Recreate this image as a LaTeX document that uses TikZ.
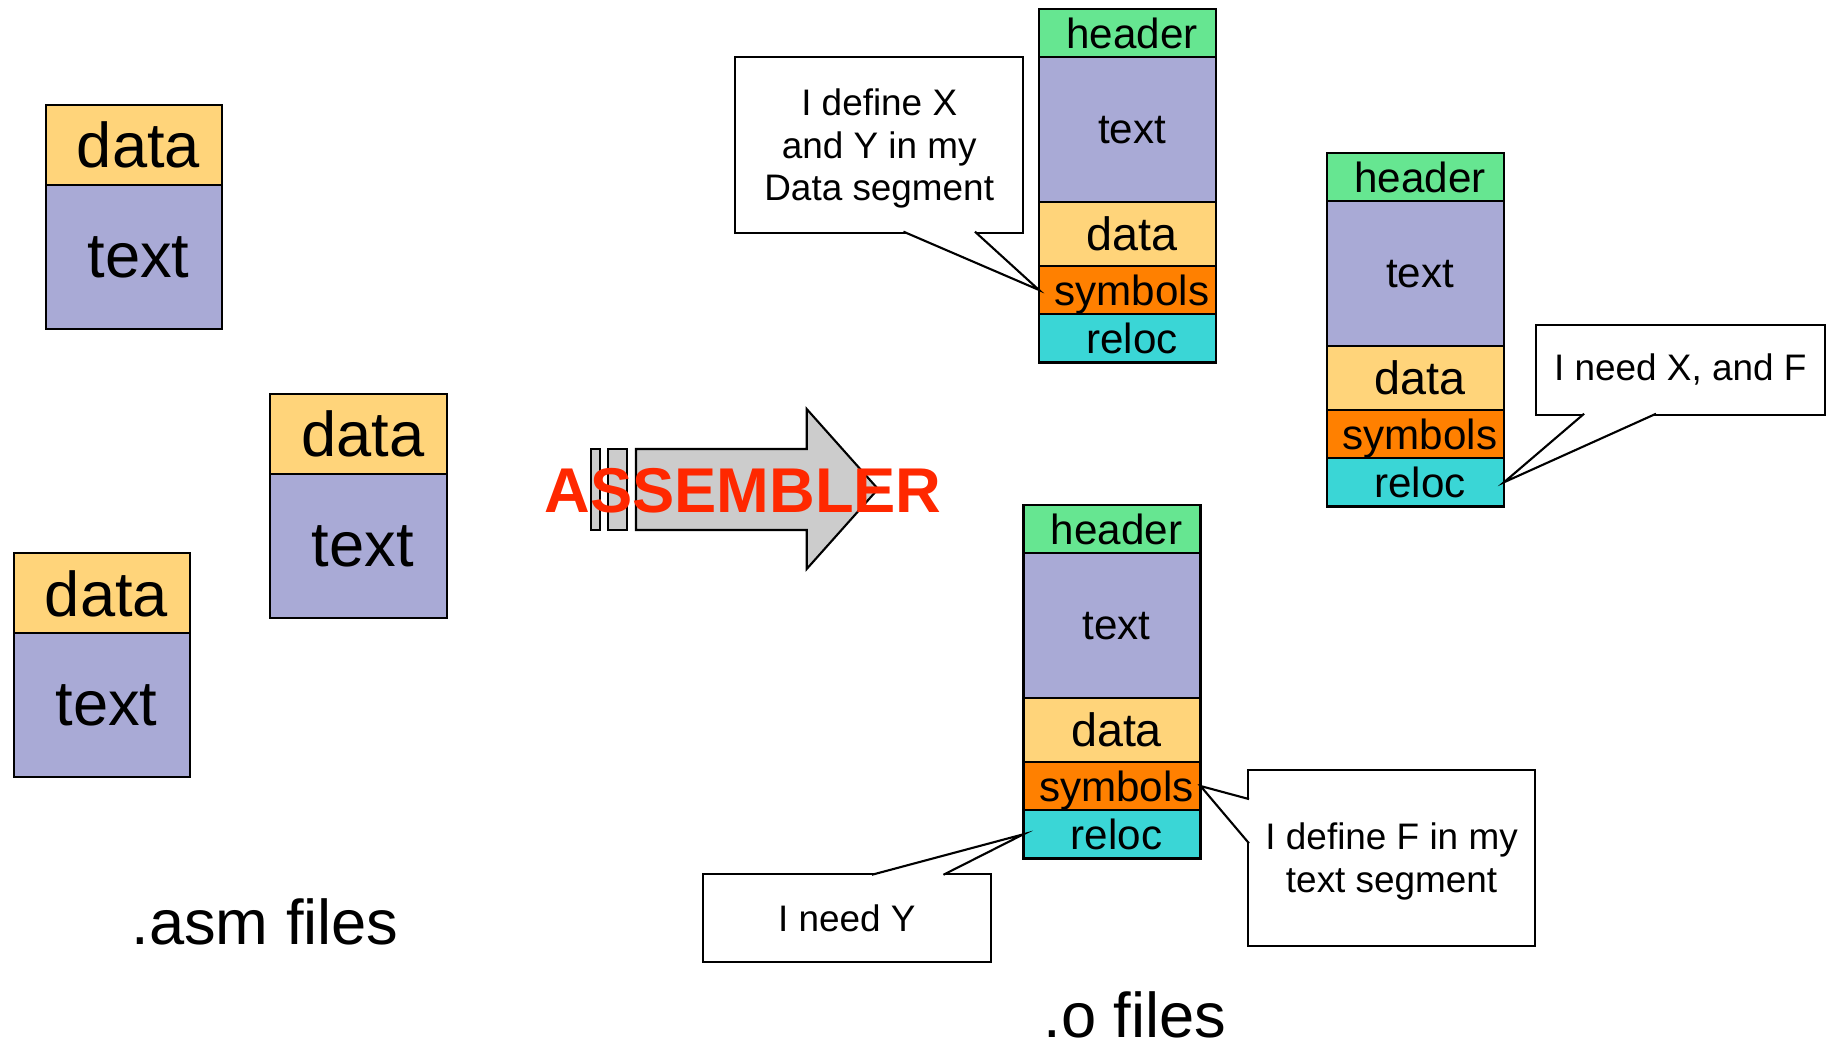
\documentclass[tikz,border=0pt]{standalone}
\usepackage{fontspec}
\setmainfont{Liberation Sans}
\usepackage{xcolor}
\usepackage{tikz}
\usetikzlibrary{positioning,calc}

\definecolor{hdrgreen}{RGB}{102,230,145}
\definecolor{txtblue}{RGB}{169,170,214}
\definecolor{datyellow}{RGB}{255,212,122}
\definecolor{symorange}{RGB}{255,128,0}
\definecolor{relcyan}{RGB}{58,214,214}
\definecolor{arrowgray}{RGB}{204,204,204}
\definecolor{asmred}{RGB}{255,40,0}

\tikzset{
  seg/.style={draw, line width=0.6pt, minimum width=1.77cm, inner sep=0pt, outer sep=0pt, text depth=0pt,
    execute at begin node={\hspace*{0.09cm}}, font=\fontsize{12}{14}\selectfont},
  bigseg/.style={seg, minimum width=1.766cm, font=\fontsize{18}{21.6}\selectfont},
  callbox/.style={draw, fill=white, line width=0.6pt, inner sep=0pt, outer sep=0pt, align=center, font=\fontsize{10.5}{12.1}\selectfont},
  ptr/.style={draw, fill=white, line width=0.6pt},
  caption/.style={anchor=base, font=\fontsize{18}{21.6}\selectfont}
}

\begin{document}
\begin{tikzpicture}
    \useasboundingbox (0,0) rectangle (18.33,-10.45);

    % .asm files
    \foreach \n/\x/\y in {1/1.34/-1.447, 2/3.584/-4.336, 3/1.02/-5.934} {
        \node[bigseg, fill=datyellow, minimum height=0.80cm] (ad\n) at (\x,\y) {data};
        \node[bigseg, fill=txtblue, minimum height=1.44cm, below=0pt of ad\n] (at\n) {text};
    }
    \node[caption] (asmcap) at (2.65,-9.445) {.asm files};

    % Assembler arrow
    \draw[line width=0.6pt, fill=arrowgray] (5.907,-4.49) rectangle (6.0,-5.30);
    \draw[line width=0.6pt, fill=arrowgray] (6.083,-4.49) rectangle (6.27,-5.30);
    \draw[line width=0.6pt, fill=arrowgray] (6.36,-4.49) -- (8.067,-4.49) -- (8.067,-4.09) -- (8.78,-4.89)
        -- (8.067,-5.69) -- (8.067,-5.30) -- (6.36,-5.30) -- cycle;
    \node[anchor=base, text=asmred, font=\bfseries\fontsize{18}{21.6}\selectfont] (asmlbl) at (7.43,-5.127) {ASSEMBLER};

    % .o files
    \foreach \n/\x/\y in {A/11.275/-0.33, B/14.155/-1.77, C/11.12/-5.29} {
        \node[seg, fill=hdrgreen, minimum height=0.48cm] (h\n) at (\x,\y) {header};
        \node[seg, fill=txtblue, minimum height=1.45cm, below=0pt of h\n] (t\n) {text};
        \node[seg, fill=datyellow, minimum height=0.64cm, below=0pt of t\n, font=\fontsize{13.3}{15}\selectfont] (d\n) {data};
        \node[seg, fill=symorange, minimum height=0.48cm, below=0pt of d\n] (s\n) {symbols};
        \node[seg, fill=relcyan, minimum height=0.485cm, below=0pt of s\n] (r\n) {reloc};
    }
    \node[caption] (ocap) at (11.35,-10.37) {.o files};

    % Callouts
    \node[callbox, text depth=0pt, minimum width=2.883cm, minimum height=1.76cm] (defA) at (8.792,-1.447) {I define X\\and Y in my\\Data segment};
    \draw[ptr] ($(defA.south west)!0.584!(defA.south east)+(0,0.3pt)$) -- (sA.west)
        -- ($(defA.south west)!0.832!(defA.south east)+(0,0.3pt)$);

    \node[callbox, minimum width=2.89cm, minimum height=0.90cm] (needB) at (16.803,-3.698) {I need X, and F};
    \draw[ptr] ($(needB.south west)!0.167!(needB.south east)+(0,0.3pt)$) -- (rB.east)
        -- ($(needB.south west)!0.416!(needB.south east)+(0,0.3pt)$);

    \node[callbox, minimum width=2.884cm, minimum height=0.882cm] (needC) at (8.468,-9.178) {I need Y};
    \draw[ptr] ($(needC.north west)!0.587!(needC.north east)+(0,-0.3pt)$) -- (rC.west)
        -- ($(needC.north west)!0.835!(needC.north east)+(0,-0.3pt)$);

    \node[callbox, text depth=0pt, minimum width=2.873cm, minimum height=1.764cm] (defC) at (13.916,-8.578) {I define F in my\\text segment};
    \draw[ptr] ($(defC.north west)!0.167!(defC.south west)+(0.3pt,0)$) -- (sC.east)
        -- ($(defC.north west)!0.418!(defC.south west)+(0.3pt,0)$);
\end{tikzpicture}
\end{document}
